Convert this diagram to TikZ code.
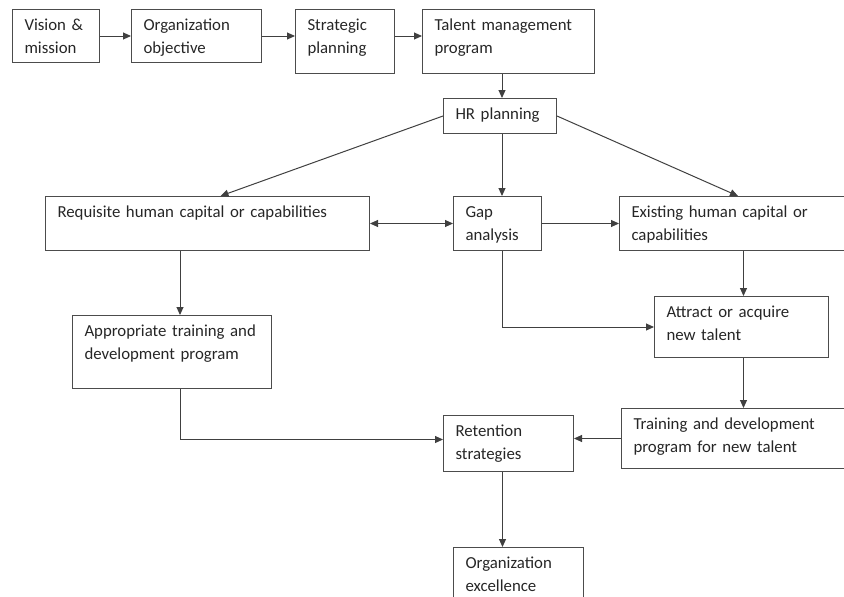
\documentclass[tikz,border=0pt]{standalone}
\usepackage{fontspec}
\setmainfont{Carlito}
\usetikzlibrary{arrows.meta}

\begin{document}
\begin{tikzpicture}[x=1pt,y=-1pt,
	box/.style 2 args={draw=black!70, line width=1pt, anchor=north west, align=left,
		inner xsep=12pt, inner ysep=0pt, text height=21pt, text width=#1, text depth=#2,
		text=black!85, font=\fontsize{16.8}{22.6}\selectfont,
		execute at begin node={\hyphenpenalty=10000\relax}},
	arr/.style={draw=black!75, line width=1pt, -{Triangle[length=8pt,width=7pt]}}]
	\useasboundingbox (0,0) rectangle (844,597);
	\node[box={63pt}{32pt}] (vis) at (12,9) {Vision \&\\mission};
	\node[box={106pt}{32pt}] (obj) at (131,9) {Organization\\objective};
	\node[box={75pt}{43pt}] (strat) at (295,9) {Strategic\\planning};
	\node[box={148pt}{43pt}] (tal) at (422,9) {Talent management\\program};
	\node[box={89pt}{14pt}] (hr) at (443,98) {HR planning};
	\node[box={300pt}{33pt}] (req) at (45,196) {Requisite human capital or capabilities};
	\node[box={64pt}{33pt}] (gap) at (453,196) {Gap\\analysis};
	\node[box={205pt}{33pt}] (exist) at (619,196) {Existing human capital or\\capabilities};
	\node[box={150pt}{40pt}] (att) at (654,296) {Attract or acquire\\new talent};
	\node[box={175pt}{52pt}] (app) at (72,315) {Appropriate training and\\development program};
	\node[box={203pt}{39pt}] (trn) at (621,408) {Training and development\\program for new talent};
	\node[box={106pt}{35pt}] (ret) at (443,415) {Retention\\strategies};
	\node[box={106pt}{39pt}] (exc) at (453,547) {Organization\\excellence};

	\draw[arr] (vis.east) -- (obj.west);
	\draw[arr] (obj.east) -- (obj.east -| strat.west);
	\draw[arr] (strat.east |- obj.east) -- (tal.west |- obj.east);
	\draw[arr] ([xshift=2pt]hr.north |- tal.south) -- ([xshift=2pt]hr.north);
	\draw[arr] (hr.west) -- ([xshift=13pt]req.north);
	\draw[arr] ([xshift=2pt]hr.south) -- ([xshift=2pt]hr.south |- gap.north);
	\draw[arr] (hr.east) -- ([xshift=4pt]exist.north);
	\draw[arr,{Triangle[length=8pt,width=7pt]}-{Triangle[length=8pt,width=7pt]}] (req.east) -- (gap.west);
	\draw[arr] (gap.east) -- (exist.west);
	\draw[arr] ([xshift=8pt]app.north |- req.south) -- ([xshift=8pt]app.north);
	\draw[arr] ([xshift=2pt]att.north |- exist.south) -- ([xshift=2pt]att.north);
	\draw[arr] ([xshift=5pt]gap.south) |- (att.west);
	\draw[arr] ([xshift=2pt]att.south) -- ([xshift=2pt]att.south |- trn.north);
	\draw[arr] (trn.west) -- (trn.west -| ret.east);
	\draw[arr] ([xshift=8pt]app.south) |- ([yshift=4pt]ret.west);
	\draw[arr] ([xshift=-6pt]ret.south) -- ([xshift=-6pt]ret.south |- exc.north);
\end{tikzpicture}
\end{document}
